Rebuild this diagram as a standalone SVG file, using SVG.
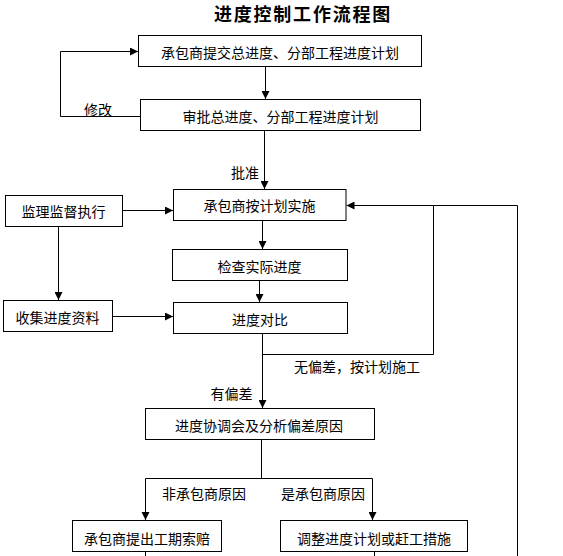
<svg xmlns="http://www.w3.org/2000/svg" width="563" height="556" viewBox="0 0 563 556">
<style>
.box{fill:#fff;stroke:#000;stroke-width:1}
.t{font-family:"Noto Sans CJK SC","Liberation Sans",sans-serif;font-size:14px;fill:#000;text-anchor:middle}
.title{font-family:"Noto Sans CJK SC","Liberation Sans",sans-serif;font-size:18px;font-weight:bold;fill:#000;text-anchor:middle;letter-spacing:1.8px}
.c{fill:none;stroke:#000;stroke-width:1}
.a{marker-end:url(#arr)}
</style>
<defs>
<marker id="arr" markerUnits="userSpaceOnUse" markerWidth="8" markerHeight="8" refX="8" refY="4" orient="auto">
<path d="M0,0 L8,4 L0,8 z" fill="#000"/>
</marker>
</defs>
<rect width="563" height="556" fill="#fff"/>
<text class="title" x="303" y="21">进度控制工作流程图</text>
<g id="connectors">
<line class="c a" x1="265.5" y1="66.5" x2="265.5" y2="99"/>
<polyline class="c a" points="140,116.5 60.5,116.5 60.5,51.5 138,51.5"/>
<line class="c a" x1="264.5" y1="130.5" x2="264.5" y2="189"/>
<line class="c a" x1="122.5" y1="210.5" x2="173" y2="210.5"/>
<line class="c a" x1="58.5" y1="226.5" x2="58.5" y2="300"/>
<line class="c a" x1="112.5" y1="316.5" x2="173" y2="316.5"/>
<line class="c a" x1="262.5" y1="220.5" x2="262.5" y2="249"/>
<line class="c a" x1="259.5" y1="280.5" x2="259.5" y2="302"/>
<line class="c a" x1="262.5" y1="333.5" x2="262.5" y2="408"/>
<polyline class="c a" points="262.5,354.5 433.5,354.5 433.5,205.5 346.5,205.5"/>
<polyline class="c" points="517.5,556 517.5,205.5 433.5,205.5"/>
<line class="c" x1="261.5" y1="439.5" x2="261.5" y2="478.5"/>
<polyline class="c a" points="145.5,520 145.5,478.5 372.5,478.5 372.5,520"/>
<line class="c" x1="145.5" y1="551.5" x2="145.5" y2="556"/>
<line class="c" x1="374.5" y1="551.5" x2="374.5" y2="556"/>
<path d="M141.5,512 L149.5,512 L145.5,520 z" fill="#000"/>
<text class="t" x="98" y="115">修改</text>
<text class="t" x="245" y="178">批准</text>
<text class="t" x="357" y="372">无偏差，按计划施工</text>
<text class="t" x="231.5" y="399">有偏差</text>
<text class="t" x="204" y="498.5">非承包商原因</text>
<text class="t" x="323" y="498.5">是承包商原因</text>
</g>
<g id="n1"><rect class="box" x="138.5" y="35.5" width="283" height="31"/><text class="t" x="280" y="58">承包商提交总进度、分部工程进度计划</text></g>
<g id="n2"><rect class="box" x="140.5" y="99.5" width="280" height="31"/><text class="t" x="280.5" y="122">审批总进度、分部工程进度计划</text></g>
<g id="n3"><rect class="box" x="173.5" y="189.5" width="172.5" height="31"/><text class="t" x="259.5" y="210.5">承包商按计划实施</text></g>
<g id="n4"><rect class="box" x="5.5" y="195.5" width="117" height="31"/><text class="t" x="63.5" y="216.5">监理监督执行</text></g>
<g id="n5"><rect class="box" x="172.5" y="249.5" width="175" height="31"/><text class="t" x="259.5" y="271.5">检查实际进度</text></g>
<g id="n6"><rect class="box" x="3.5" y="300.5" width="109" height="31"/><text class="t" x="57.5" y="322.5">收集进度资料</text></g>
<g id="n7"><rect class="box" x="173.5" y="302.5" width="174" height="31"/><text class="t" x="260" y="324.5">进度对比</text></g>
<g id="n8"><rect class="box" x="145.5" y="408.5" width="229" height="31"/><text class="t" x="259" y="431">进度协调会及分析偏差原因</text></g>
<g id="n9"><rect class="box" x="72.5" y="520.5" width="149" height="31"/><text class="t" x="147" y="543.5">承包商提出工期索赔</text></g>
<g id="n10"><rect class="box" x="280.5" y="520.5" width="187" height="31"/><text class="t" x="374" y="543.5">调整进度计划或赶工措施</text></g>
</svg>
